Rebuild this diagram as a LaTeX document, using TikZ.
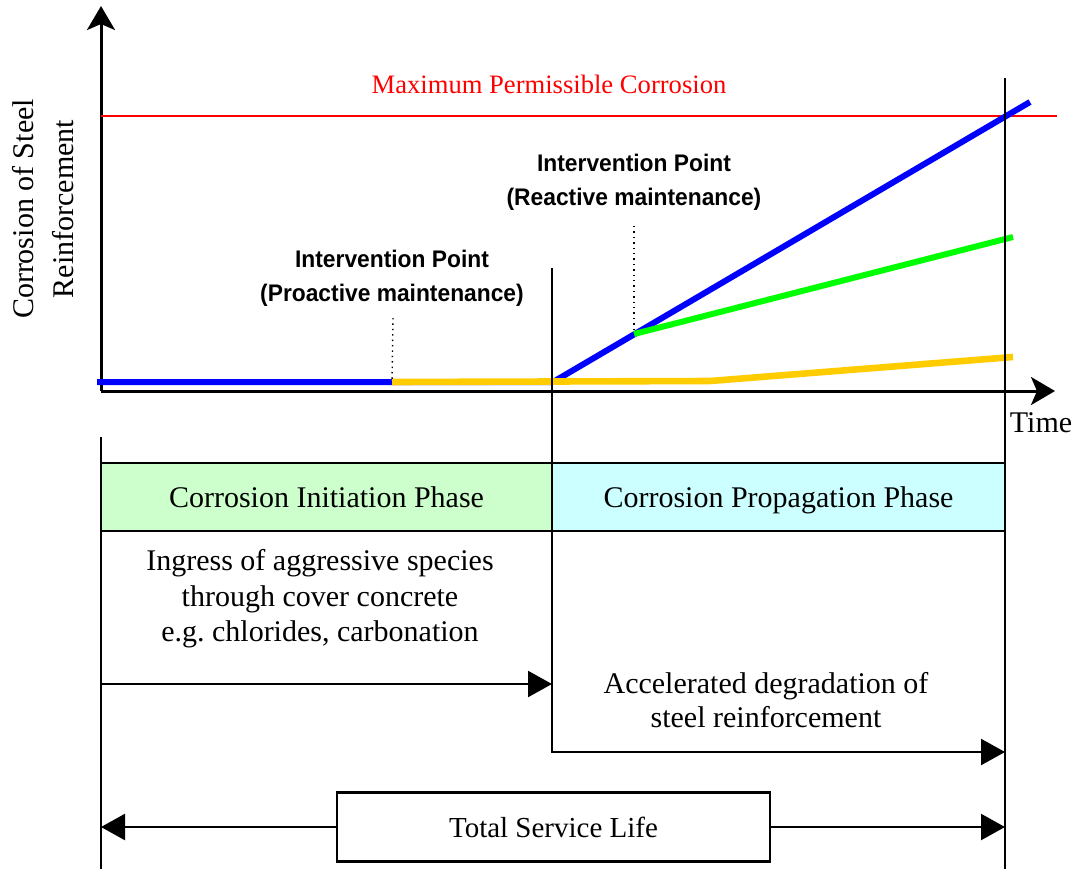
\documentclass[tikz,border=0pt]{standalone}
\usepackage{fontspec}
\setmainfont{Liberation Serif}
\newfontfamily\markfont[FakeStretch=0.95]{Liberation Sans}
\usetikzlibrary{arrows.meta}
\definecolor{initfill}{HTML}{CCFFCC}
\definecolor{propfill}{HTML}{CCFFFF}
\definecolor{amber}{HTML}{FFCC00}

\begin{document}
\begin{tikzpicture}[x=0.5pt,y=-0.5pt,
		axis/.style={line width=1.5pt,-{Stealth[length=12pt,width=14pt,inset=3pt]}},
		limit/.style={line width=1.2pt},
		span/.style={line width=1.2pt,-{Triangle[length=12pt,width=13pt]}},
		phase/.style={draw,line width=1.4pt,minimum height=34pt,inner sep=0pt,outer sep=0pt,text height=10pt,text depth=0pt,font=\fontsize{15}{18}\selectfont},
		note/.style={align=center,font=\fontsize{15}{17.75}\selectfont},
		intervention/.style={align=center,font=\markfont\bfseries\fontsize{12}{17}\selectfont},
		curve/.style={line width=3pt,line join=round}]
		\useasboundingbox (0,0) rectangle (1077,869);
		\coordinate (o) at (101,391);
		\coordinate (ytip) at (101,6);
		\coordinate (xtip) at (1055,391);
		\draw[axis] (o) -- (ytip);
		\draw[axis] (o) -- (xtip);
		\node[font=\fontsize{15}{20}\selectfont,rotate=90,align=center] (ylabel) at (43,209) {Corrosion of Steel\\Reinforcement};
		\node[font=\fontsize{15}{18}\selectfont] (time) at (1041,423) {Time};
		\coordinate (maxl) at (101,116);
		\coordinate (maxr) at (1057,116);
		\draw[red,line width=1pt] (maxl) -- (maxr);
		\node[text=red,font=\fontsize{13.3}{16}\selectfont] (maxlabel) at (549,84) {Maximum Permissible Corrosion};
		\coordinate (start) at (97,382);
		\coordinate (pro) at (392,382);
		\coordinate (onset) at (553,382);
		\coordinate (re) at (634,334);
		\coordinate (blueend) at (1030,102);
		\coordinate (greenend) at (1013,237);
		\coordinate (knee) at (710,381);
		\coordinate (amberend) at (1013,357);
		\draw[curve,blue] (start) -- (onset) -- (blueend);
		\draw[curve,green] (re) -- (greenend);
		\draw[curve,amber,line width=3.3pt] (pro) -- (knee) -- (amberend);
		\node[intervention] (proact) at (392,278) {Intervention Point\\(Proactive maintenance)};
		\node[intervention] (react) at (634,182) {Intervention Point\\(Reactive maintenance)};
		\coordinate (protop) at (393,318);
		\coordinate (retop) at (634,226);
		\draw[dotted,line width=0.7pt] (protop) -- (pro);
		\draw[dotted,line width=0.7pt] (retop) -- (re);
		\coordinate (midtop) at (552,268);
		\coordinate (midbot) at (552,753);
		\coordinate (lefttop) at (101,437);
		\coordinate (leftbot) at (101,869);
		\coordinate (righttop) at (1005,78);
		\coordinate (rightbot) at (1005,869);
		\draw[limit] (midtop) -- (midbot);
		\draw[limit] (lefttop) -- (leftbot);
		\draw[limit] (righttop) -- (rightbot);
		\node[phase,fill=initfill,minimum width=225.5pt] (init) at (326.5,497) {Corrosion Initiation Phase};
		\node[phase,fill=propfill,minimum width=226.5pt] (prop) at (778.5,497) {Corrosion Propagation Phase};
		\node[note] (ingress) at (320,599) {Ingress of aggressive species\\through cover concrete\\e.g.\ chlorides, carbonation};
		\node[note,font=\fontsize{15}{17}\selectfont] (accel) at (766,700) {Accelerated degradation of\\steel reinforcement};
		\coordinate (inita) at (101,684);
		\coordinate (initb) at (552,684);
		\coordinate (propa) at (552,752);
		\coordinate (propb) at (1005,752);
		\draw[span] (inita) -- (initb);
		\draw[span] (propa) -- (propb);
		\node[phase,minimum width=216.5pt,minimum height=34.5pt,fill=white,font=\fontsize{14.5}{17}\selectfont] (life) at (553.5,827) {Total Service Life};
		\coordinate (lifel) at (101,827);
		\coordinate (lifer) at (1005,827);
		\draw[span] (life.west) -- (lifel);
		\draw[span] (life.east) -- (lifer);
\end{tikzpicture}
\end{document}
